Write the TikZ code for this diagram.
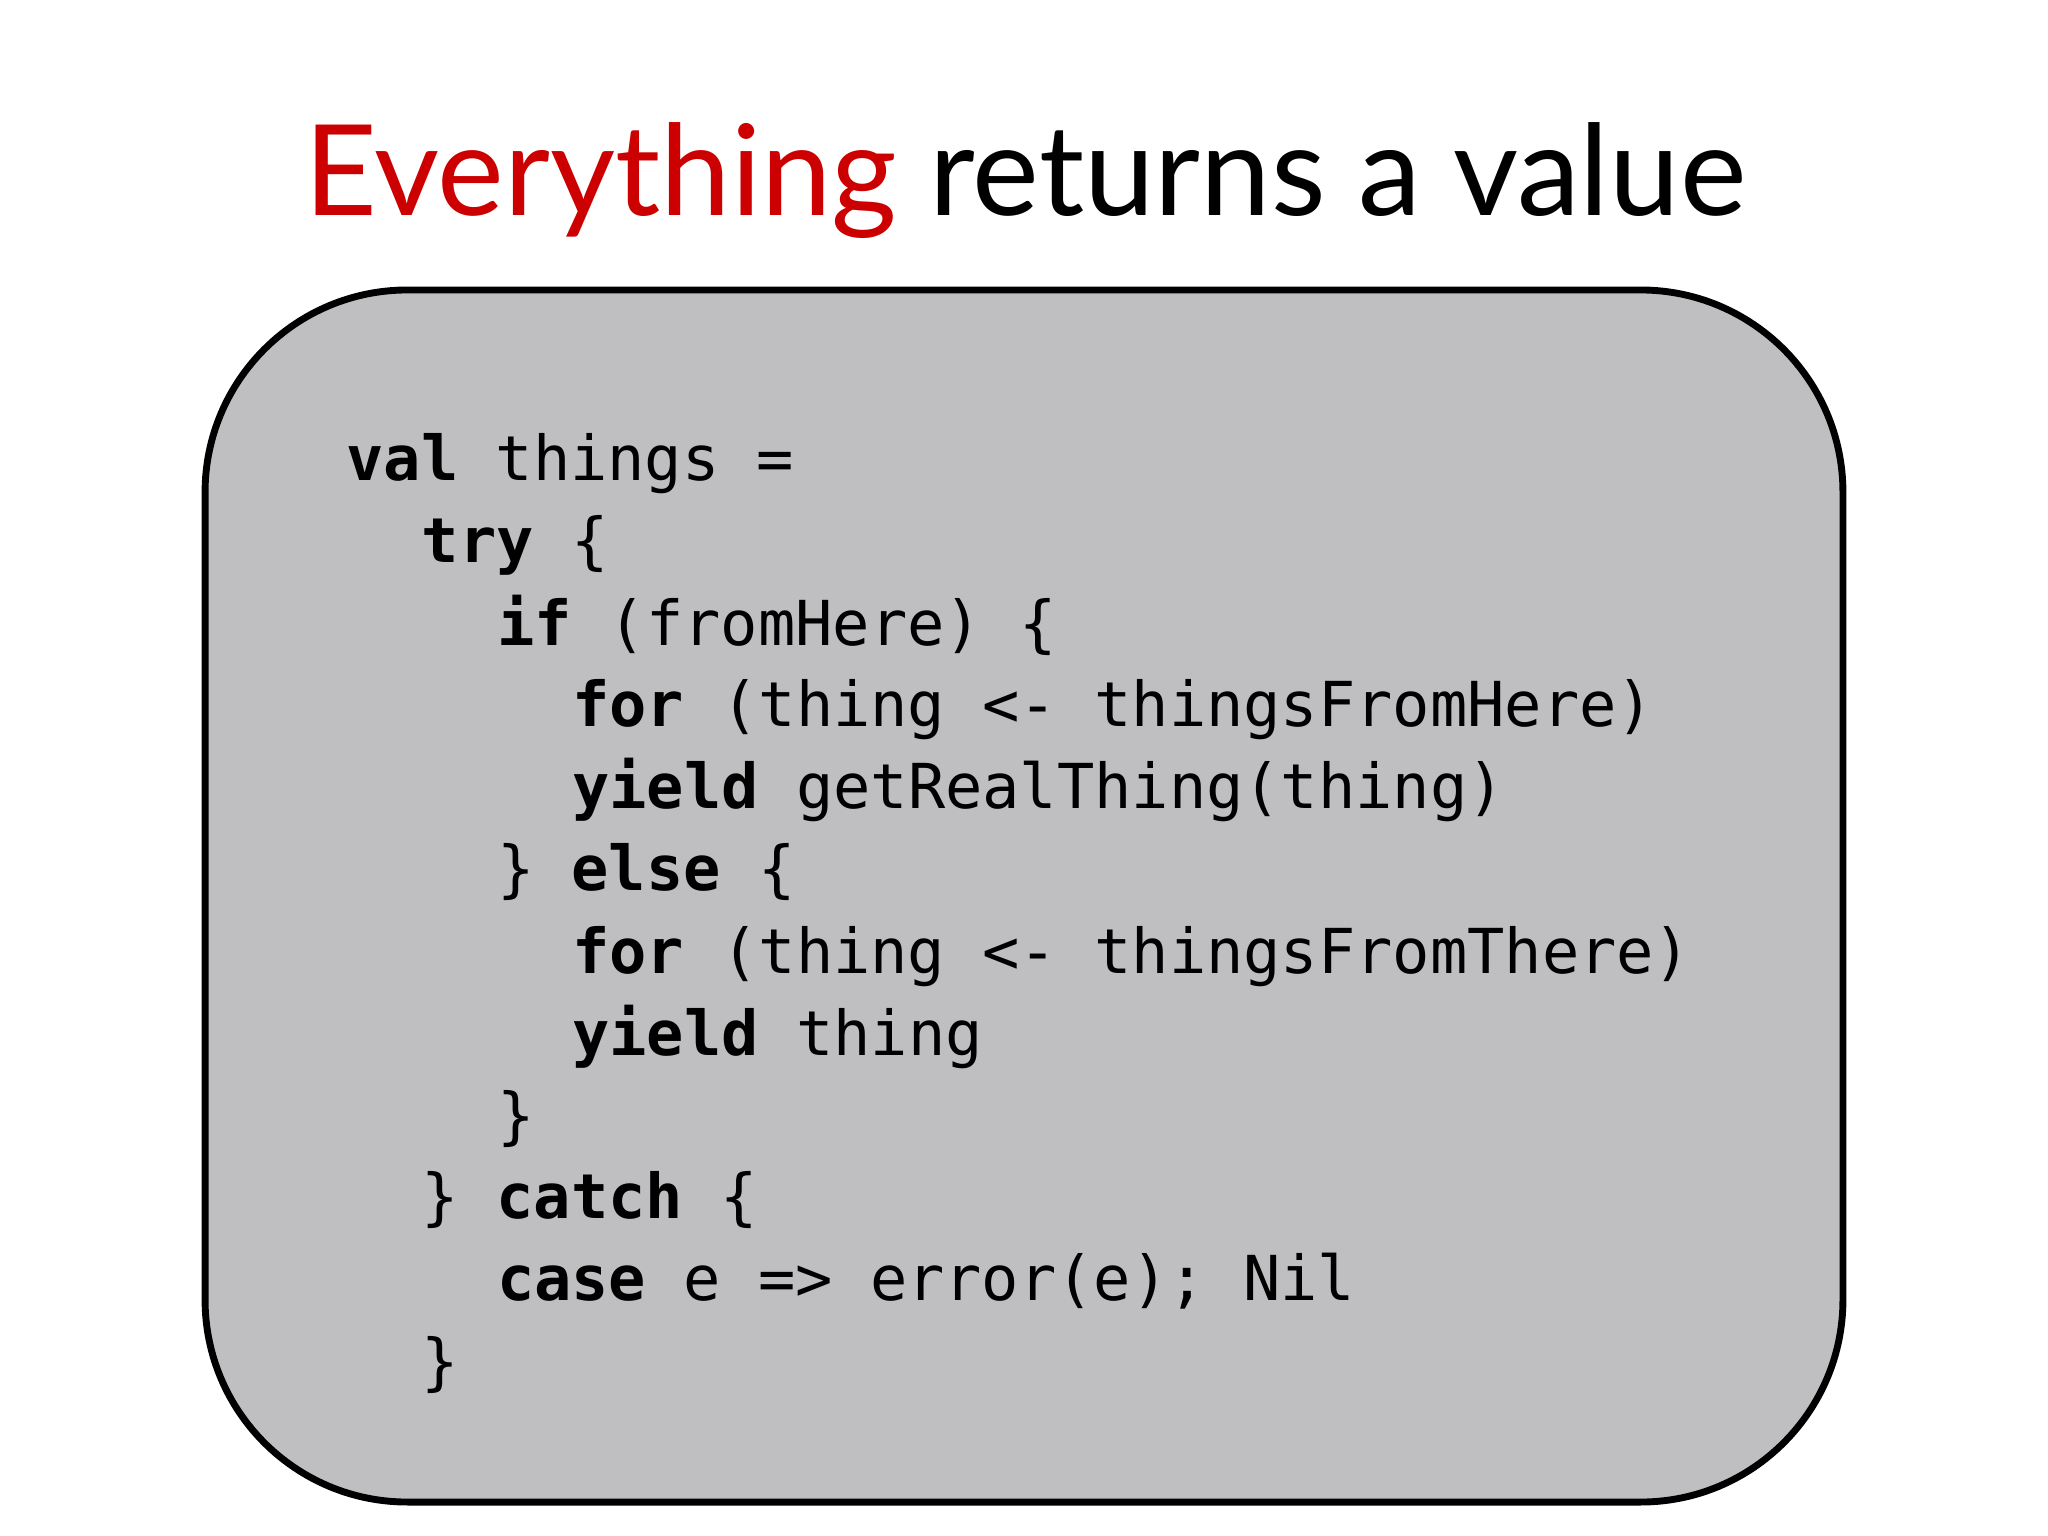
\documentclass[tikz,border=0pt]{standalone}
\usepackage{fontspec}
\setmainfont{Lato}
\setmonofont{DejaVu Sans Mono}
\definecolor{boxgray}{RGB}{191,190,193}
\definecolor{titlered}{RGB}{204,0,0}
\begin{document}
\begin{tikzpicture}[x=0.02cm,y=-0.02cm,
  codeline/.style={anchor=base west,inner sep=0pt,font=\ttfamily\fontsize{27}{32}\selectfont}]
\useasboundingbox (0,0) rectangle (1568,1176);
\fill[white] (0,0) rectangle (1568,1176);
\draw[line width=3pt,fill=boxgray,rounded corners=3.1cm] (157,222) rectangle (1411,1150);
\node[anchor=base,inner sep=0pt,font=\fontsize{55}{57}\selectfont] (title) at (785,165)
  {\textcolor{titlered}{Everything} returns a value};
\newcommand\cw{28.8}
\foreach \ind/\y/\txt [count=\i] in {
 0/368/{\textbf{val} things =},
 2/431/{\textbf{try} \{},
 4/494/{\textbf{if} (fromHere) \{},
 6/556/{\textbf{for} (thing <- thingsFromHere)},
 6/619/{\textbf{yield} getRealThing(thing)},
 4/682/{\} \textbf{else} \{},
 6/745/{\textbf{for} (thing <- thingsFromThere)},
 6/808/{\textbf{yield} thing},
 4/871/{\}},
 2/933/{\} \textbf{catch} \{},
 4/996/{\textbf{case} e => error(e); Nil},
 2/1059/{\}}}
 \node[codeline] (line\i) at (265+\ind*\cw,\y) {\txt};
\end{tikzpicture}
\end{document}
